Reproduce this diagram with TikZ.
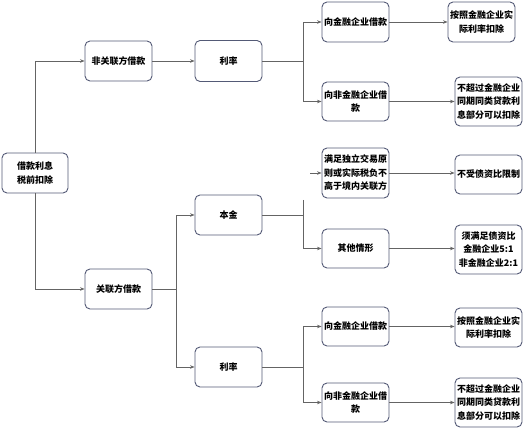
\documentclass[tikz,border=0pt]{standalone}
\usepackage{fontspec}
\setmainfont{Noto Sans CJK SC}
\usetikzlibrary{arrows.meta}
\definecolor{boxline}{RGB}{84,90,118}
\definecolor{conn}{RGB}{100,100,100}
\tikzset{
  x=1pt,y=-1pt,
  bx/.style={draw=boxline,line width=0.9pt,rounded corners=5pt,fill=white,
    minimum width=67pt,align=center,inner sep=1pt,font=\fontsize{9}{13.5}\selectfont\bfseries},
  cn/.style={draw=conn,line width=0.9pt},
  ar/.style={cn,-{Stealth[length=4.5pt,width=3.5pt]}}
}
\begin{document}
\begin{tikzpicture}
\useasboundingbox (0,0) rectangle (523,430);
% nodes
\node[bx,minimum width=66pt,minimum height=40pt] (root) at (35,173) {借款利息\\税前扣除};
\node[bx,minimum height=40pt] (n1) at (118.5,61) {非关联方借款};
\node[bx,minimum height=41pt] (r1) at (228.5,61) {利率};
\node[bx,minimum height=40pt] (a1) at (355.5,22) {向金融企业借款};
\node[bx,minimum height=40pt] (b1) at (481.5,22) {按照金融企业实\\际利率扣除};
\node[bx,minimum height=39pt] (a2) at (355.5,101.5) {向非金融企业借\\款};
\node[bx,minimum height=49pt] (b2) at (488.5,101.5) {不超过金融企业\\同期同类贷款利\\息部分可以扣除};
\node[bx,minimum height=40pt] (n2) at (118.5,289) {关联方借款};
\node[bx,minimum height=40pt] (bj) at (228.5,215) {本金};
\node[bx,minimum height=50pt] (c1) at (355.5,173) {满足独立交易原\\则或实际税负不\\高于境内关联方};
\node[bx,minimum height=39pt] (d1) at (488.5,174.5) {不受债资比限制};
\node[bx,minimum height=39pt] (c2) at (355.5,248.5) {其他情形};
\node[bx,minimum height=49pt] (d2) at (488.5,249.5) {须满足债资比\\金融企业5:1\\非金融企业2:1};
\node[bx,minimum height=40pt] (r2) at (228.5,367) {利率};
\node[bx,minimum height=39pt] (a3) at (355.5,326.5) {向金融企业借款};
\node[bx,minimum height=39pt] (b3) at (488.5,327.5) {按照金融企业实\\际利率扣除};
\node[bx,minimum height=39pt] (a4) at (355.5,402.5) {向非金融企业借\\款};
\node[bx,minimum height=49pt] (b4) at (488.5,402.5) {不超过金融企业\\同期同类贷款利\\息部分可以扣除};
% fork coordinates
\coordinate (f1) at (303,61);
\coordinate (f2) at (176,289);
\coordinate (f3) at (303,215);
\coordinate (f3t) at (303,200);
\coordinate (f4) at (303,367);
\coordinate (s1) at (310,173);
% connectors
\draw[ar] (root.north) |- (n1.west);
\draw[ar] (root.south) |- (n2.west);
\draw[ar] (n1.east) -- (r1.west);
\draw[cn] (r1.east) -- (f1);
\draw[ar] (f1) |- (a1.west);
\draw[ar] (f1) |- (a2.west);
\draw[ar] (a1.east) -- (b1.west |- a1.east);
\draw[ar] (a2.east) -- (b2.west |- a2.east);
\draw[cn] (n2.east) -- (f2);
\draw[ar] (f2) |- (bj.west);
\draw[ar] (f2) |- (r2.west);
\draw[cn] (bj.east) -- (f3);
\draw[ar] (f3t) |- (c2.west);
\draw[ar] (s1) -- (c1.west);
\draw[ar] (c1.east) -- (d1.west |- c1.east);
\draw[ar] (c2.east) -- (d2.west |- c2.east);
\draw[cn] (r2.east) -- (f4);
\draw[ar] (f4) |- (a3.west);
\draw[ar] (f4) |- (a4.west);
\draw[ar] (a3.east) -- (b3.west |- a3.east);
\draw[ar] (a4.east) -- (b4.west |- a4.east);
\end{tikzpicture}
\end{document}
